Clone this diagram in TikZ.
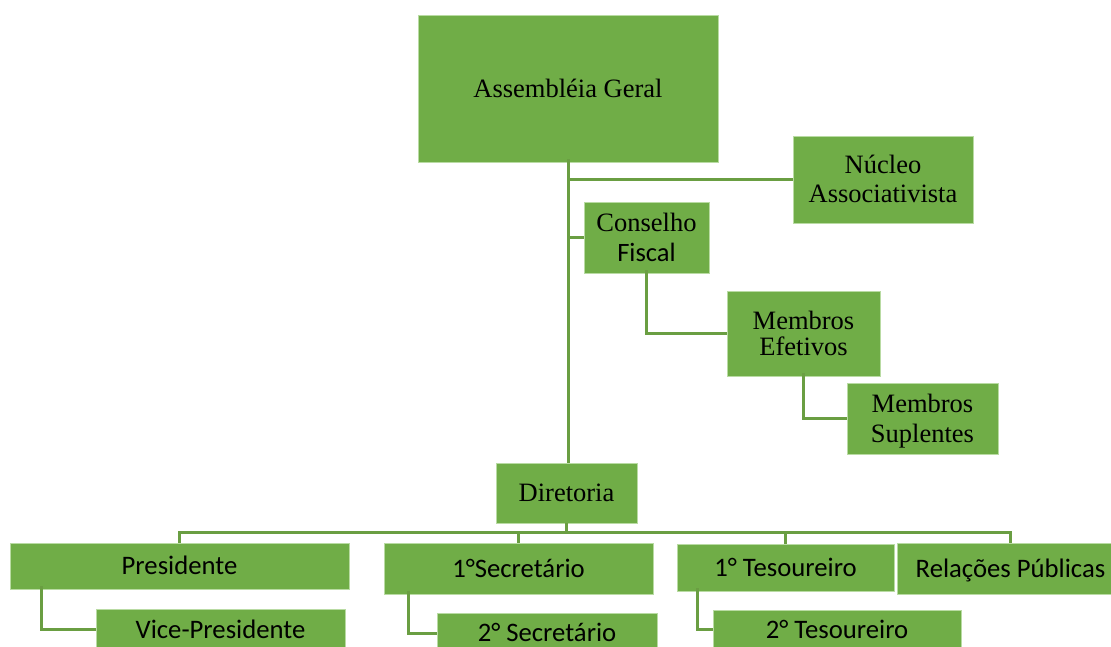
\documentclass[tikz,border=0pt]{standalone}
\usepackage{fontspec}
\setmainfont{Liberation Serif}
\newfontfamily\calfont{Carlito}
\definecolor{boxgreen}{HTML}{70AD47}
\definecolor{linegreen}{HTML}{6A9E42}
\definecolor{edgegreen}{HTML}{B9DBA3}
\begin{document}
\begin{tikzpicture}[x=1pt,y=-1pt,
  box/.style={fill=boxgreen, draw=edgegreen, line width=0.8pt, inner sep=0pt, align=center,
              font=\fontsize{26.5}{29}\selectfont, text height=17.5pt, text depth=0pt},
  sbox/.style={box, font=\fontsize{26.7}{29}\selectfont\calfont, text height=17.2pt},
  conn/.style={draw=linegreen, line width=3pt}]
\useasboundingbox (0,0) rectangle (1111,646);

% upper part
\node[box, minimum width=300pt, minimum height=147pt] (ag) at (568,88.5) {Assembléia Geral};
\node[box, minimum width=180pt, minimum height=87pt, text height=46.5pt] (nuc) at (883,179.5) {Núcleo\\Associativista};
\node[box, minimum width=125pt, minimum height=71pt, font=\fontsize{26.5}{30}\selectfont, text height=47.5pt] (cf) at (646.5,237.5) {Conselho\\{\calfont Fiscal}};
\node[box, minimum width=153pt, minimum height=85pt, font=\fontsize{26.5}{26}\selectfont, text height=43.5pt] (me) at (803.5,333.5) {Membros\\Efetivos};
\node[box, minimum width=151pt, minimum height=71pt, font=\fontsize{26.5}{30}\selectfont, text height=47.5pt] (ms) at (922.5,418.5) {Membros\\Suplentes};
\node[box, minimum width=141pt, minimum height=60pt] (dir) at (566.5,493) {Diretoria};

% lower part
\node[sbox, minimum width=339pt, minimum height=46pt] (pres) at (179.5,566) {Presidente};
\node[sbox, minimum width=249pt, minimum height=40pt] (vp) at (220.5,629.5) {Vice-Presidente};
\node[sbox, minimum width=269pt, minimum height=51pt] (sec1) at (518.5,568.5) {1°Secretário};
\node[sbox, minimum width=220pt, minimum height=40pt] (sec2) at (547,633) {2° Secretário};
\node[sbox, minimum width=217pt, minimum height=47pt] (tes1) at (785.5,567.5) {1° Tesoureiro};
\node[sbox, minimum width=248pt, minimum height=38pt] (tes2) at (837,629.5) {2° Tesoureiro};
\node[sbox, minimum width=227pt, minimum height=51pt] (rp) at (1010.5,568.5) {Relações Públicas};

% connectors upper
\draw[conn] ([yshift=3pt]ag.south) -- (ag.south |- dir.north);
\draw[conn] (ag.south |- nuc.west) -- (nuc.west);
\draw[conn] (ag.south |- cf.west) -- (cf.west);
\draw[conn] ([yshift=3pt]cf.south) |- (me.west);
\draw[conn] ([yshift=3pt]me.south) |- (ms.west);

% connectors lower
\draw[conn] (dir.south) -- ++(0,9) coordinate (bus);
\draw[conn] (pres.north) -- (pres.north |- bus) -- (rp.north |- bus) -- (rp.north);
\draw[conn] (sec1.north) -- (sec1.north |- bus);
\draw[conn] (tes1.north) -- (tes1.north |- bus);
\draw[conn] ([xshift=32pt,yshift=3pt]pres.south west) |- (vp.west);
\draw[conn] ([xshift=25pt,yshift=3pt]sec1.south west) |- (sec2.west);
\draw[conn] ([xshift=21pt,yshift=3pt]tes1.south west) |- (tes2.west);
\end{tikzpicture}
\end{document}
